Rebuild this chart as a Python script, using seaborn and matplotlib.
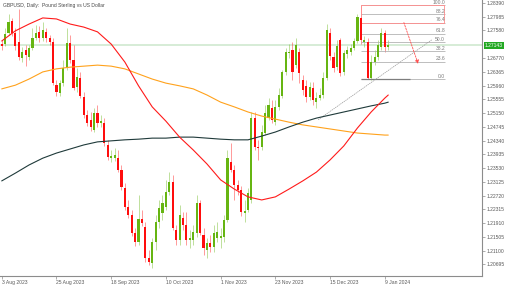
import numpy as np
import pandas as pd
import matplotlib
matplotlib.use("Agg")
import matplotlib.pyplot as plt
import matplotlib.transforms as mtransforms
from matplotlib.patches import Rectangle
import seaborn as sns

# ---------------- data ----------------
title = "GBPUSD, Daily:  Pound Sterling vs US Dollar"

opens = [1.2718, 1.2718, 1.2751, 1.2786, 1.2751, 1.2724, 1.2677, 1.2701, 1.2680, 1.2706,
         1.2736, 1.2754, 1.2736, 1.2754, 1.2736, 1.2724, 1.2597, 1.2574, 1.2603, 1.2648,
         1.2721, 1.2671, 1.2592, 1.2618, 1.2562, 1.2509, 1.2494, 1.2465, 1.2515, 1.2486,
         1.2486, 1.2421, 1.2382, 1.2382, 1.2382, 1.2347, 1.2294, 1.2238, 1.2215, 1.2162,
         1.2135, 1.2203, 1.2179, 1.2088, 1.2073, 1.2135, 1.2194, 1.2221, 1.2238, 1.2282,
         1.2312, 1.2170, 1.2141, 1.2206, 1.2185, 1.2141, 1.2141, 1.2162, 1.2250, 1.2156,
         1.2112, 1.2132, 1.2120, 1.2147, 1.2147, 1.2150, 1.2200, 1.2371, 1.2347, 1.2303,
         1.2288, 1.2221, 1.2229, 1.2259, 1.2500, 1.2415, 1.2415, 1.2456, 1.2500, 1.2530,
         1.2488, 1.2533, 1.2565, 1.2636, 1.2692, 1.2701, 1.2656, 1.2695, 1.2612, 1.2595,
         1.2562, 1.2589, 1.2547, 1.2559, 1.2568, 1.2618, 1.2751, 1.2680, 1.2650, 1.2730,
         1.2636, 1.2689, 1.2695, 1.2706, 1.2727, 1.2795, 1.2724, 1.2724, 1.2618, 1.2665,
         1.2680, 1.2709, 1.2751, 1.2709]
closes = [1.2712, 1.2748, 1.2783, 1.2751, 1.2712, 1.2680, 1.2695, 1.2686, 1.2706, 1.2736,
          1.2751, 1.2736, 1.2759, 1.2736, 1.2724, 1.2603, 1.2577, 1.2603, 1.2648, 1.2721,
          1.2671, 1.2589, 1.2621, 1.2565, 1.2509, 1.2486, 1.2474, 1.2515, 1.2486, 1.2491,
          1.2427, 1.2385, 1.2388, 1.2391, 1.2347, 1.2297, 1.2238, 1.2215, 1.2162, 1.2135,
          1.2203, 1.2191, 1.2088, 1.2076, 1.2135, 1.2194, 1.2235, 1.2250, 1.2282, 1.2312,
          1.2176, 1.2141, 1.2215, 1.2185, 1.2141, 1.2147, 1.2165, 1.2250, 1.2162, 1.2117,
          1.2132, 1.2120, 1.2162, 1.2165, 1.2153, 1.2200, 1.2382, 1.2347, 1.2303, 1.2288,
          1.2223, 1.2226, 1.2279, 1.2500, 1.2415, 1.2412, 1.2459, 1.2515, 1.2539, 1.2494,
          1.2533, 1.2568, 1.2636, 1.2695, 1.2695, 1.2636, 1.2715, 1.2633, 1.2583, 1.2562,
          1.2592, 1.2553, 1.2559, 1.2568, 1.2618, 1.2759, 1.2683, 1.2648, 1.2712, 1.2633,
          1.2692, 1.2701, 1.2706, 1.2727, 1.2798, 1.2730, 1.2730, 1.2618, 1.2665, 1.2680,
          1.2715, 1.2751, 1.2709, 1.27143]
highs = [1.2730, 1.2765, 1.2807, 1.2795, 1.2765, 1.2821, 1.2709, 1.2715, 1.2715, 1.2765,
         1.2774, 1.2771, 1.2783, 1.2765, 1.2745, 1.2736, 1.2612, 1.2612, 1.2671, 1.2765,
         1.2745, 1.2715, 1.2648, 1.2636, 1.2577, 1.2524, 1.2518, 1.2530, 1.2539, 1.2509,
         1.2500, 1.2436, 1.2406, 1.2412, 1.2406, 1.2362, 1.2309, 1.2259, 1.2229, 1.2176,
         1.2274, 1.2229, 1.2194, 1.2112, 1.2147, 1.2215, 1.2259, 1.2274, 1.2318, 1.2341,
         1.2332, 1.2185, 1.2244, 1.2223, 1.2223, 1.2170, 1.2185, 1.2274, 1.2259, 1.2176,
         1.2147, 1.2156, 1.2185, 1.2194, 1.2176, 1.2215, 1.2406, 1.2427, 1.2362, 1.2318,
         1.2300, 1.2259, 1.2294, 1.2518, 1.2518, 1.2436, 1.2480, 1.2539, 1.2559, 1.2553,
         1.2553, 1.2589, 1.2642, 1.2706, 1.2718, 1.2724, 1.2736, 1.2706, 1.2627, 1.2612,
         1.2606, 1.2606, 1.2577, 1.2589, 1.2636, 1.2777, 1.2765, 1.2695, 1.2730, 1.2736,
         1.2701, 1.2712, 1.2718, 1.2736, 1.2807, 1.2833, 1.2742, 1.2736, 1.2686, 1.2701,
         1.2730, 1.2765, 1.2759, 1.2730]
lows = [1.2701, 1.2712, 1.2745, 1.2742, 1.2701, 1.2671, 1.2665, 1.2653, 1.2671, 1.2701,
        1.2730, 1.2724, 1.2727, 1.2724, 1.2715, 1.2597, 1.2565, 1.2565, 1.2595, 1.2642,
        1.2662, 1.2583, 1.2577, 1.2559, 1.2500, 1.2477, 1.2462, 1.2459, 1.2474, 1.2474,
        1.2418, 1.2377, 1.2371, 1.2374, 1.2341, 1.2288, 1.2229, 1.2206, 1.2153, 1.2123,
        1.2126, 1.2182, 1.2076, 1.2067, 1.2059, 1.2112, 1.2176, 1.2200, 1.2229, 1.2274,
        1.2170, 1.2126, 1.2126, 1.2170, 1.2126, 1.2117, 1.2126, 1.2150, 1.2156, 1.2097,
        1.2088, 1.2106, 1.2106, 1.2135, 1.2117, 1.2135, 1.2194, 1.2341, 1.2259, 1.2274,
        1.2212, 1.2194, 1.2223, 1.2250, 1.2406, 1.2377, 1.2406, 1.2450, 1.2494, 1.2486,
        1.2480, 1.2524, 1.2559, 1.2627, 1.2677, 1.2612, 1.2648, 1.2603, 1.2568, 1.2547,
        1.2553, 1.2539, 1.2530, 1.2553, 1.2559, 1.2612, 1.2671, 1.2636, 1.2642, 1.2624,
        1.2627, 1.2677, 1.2686, 1.2701, 1.2721, 1.2718, 1.2709, 1.2615, 1.2612, 1.2656,
        1.2671, 1.2701, 1.2695, 1.2701]

ma_idx = [0, 4, 8, 12, 16, 20, 24, 28, 32, 36, 40, 44, 48, 52, 56, 60, 64, 68, 72, 76,
          80, 84, 88, 92, 96, 100, 104, 108, 112, 113]
ma_red = [1.2727, 1.2757, 1.2777, 1.2795, 1.2792, 1.2777, 1.2768, 1.2754, 1.2718, 1.2665,
          1.2595, 1.2533, 1.2491, 1.2444, 1.2406, 1.2365, 1.2318, 1.2291, 1.2268, 1.2259,
          1.2268, 1.2291, 1.2315, 1.2341, 1.2377, 1.2418, 1.2471, 1.2518, 1.2559, 1.2568]
ma_orange = [1.2586, 1.2597, 1.2615, 1.2636, 1.2645, 1.2650, 1.2653, 1.2656, 1.2653, 1.2645,
             1.2630, 1.2615, 1.2603, 1.2595, 1.2586, 1.2568, 1.2547, 1.2533, 1.2518, 1.2506,
             1.2497, 1.2488, 1.2480, 1.2474, 1.2468, 1.2462, 1.2456, 1.2453, 1.2450, 1.2450]
ma_black = [1.2315, 1.2338, 1.2362, 1.2382, 1.2397, 1.2409, 1.2421, 1.2430, 1.2433, 1.2436,
            1.2438, 1.2441, 1.2441, 1.2444, 1.2444, 1.2441, 1.2438, 1.2436, 1.2436, 1.2447,
            1.2459, 1.2474, 1.2488, 1.2500, 1.2509, 1.2518, 1.2527, 1.2536, 1.2544, 1.2547]

date_ticks = [0, 16, 32, 48, 64, 80, 96, 112]
date_labels = ["3 Aug 2023", "25 Aug 2023", "18 Sep 2023", "10 Oct 2023",
               "1 Nov 2023", "23 Nov 2023", "15 Dec 2023", "9 Jan 2024"]
price_ticks = [1.20695, 1.21100, 1.21505, 1.21910, 1.22315, 1.22720, 1.23125, 1.23530,
               1.23935, 1.24340, 1.24745, 1.25150, 1.25555, 1.25960, 1.26365, 1.26770,
               1.27580, 1.27985, 1.28390]
current_price = 1.27143

fib_levels = [0.0, 23.6, 38.2, 50.0, 61.8, 76.4, 88.2, 100.0]
fib_low = 1.2615
fib_high = 1.2832
trend_x = [92.5, 125.8]
trend_y = [1.2495, 1.2731]
arrow_from = (117.3, 1.2789)
arrow_to = (122.0, 1.2652)

# ---------------- style ----------------
sns.set_theme(style="white")
plt.rcParams["font.family"] = ["Liberation Sans", "DejaVu Sans"]
FS = 3.6
TXT = "#5a5a5a"
AX = "#8c8c8c"

fig = plt.figure(figsize=(5.12, 2.88), dpi=100)
fig.patch.set_facecolor("white")
ax = fig.add_axes([0, 12 / 288, 482 / 512, 276 / 288])
ax.set_facecolor("white")

# current price line (background)
ax.axhline(current_price, color="#d3ead3", lw=1.3, zorder=0.5)

# candles
df = pd.DataFrame({"i": np.arange(len(opens)), "open": opens, "close": closes,
                   "high": highs, "low": lows})
up = (df["close"] >= df["open"]).to_numpy()
bull, bear = "#66b512", "#ff0d0d"
cols = np.where(up, bull, bear)
ax.vlines(df["i"], df["low"], df["high"], colors=cols, lw=0.7, alpha=0.42, zorder=2)
body_bottom = np.minimum(df["open"], df["close"])
body_h = np.maximum((df["close"] - df["open"]).abs(), 0.00022)
ax.bar(df["i"], body_h, bottom=body_bottom, width=0.62, color=cols, linewidth=0, zorder=3)

# moving averages
ma = pd.DataFrame({"i": ma_idx, "red": ma_red, "orange": ma_orange, "black": ma_black})
sns.lineplot(data=ma, x="i", y="orange", color="#ffa21c", lw=0.8, ax=ax, zorder=4)
sns.lineplot(data=ma, x="i", y="black", color="#1f3a3a", lw=0.8, ax=ax, zorder=4)
sns.lineplot(data=ma, x="i", y="red", color="#ff1a1a", lw=0.8, ax=ax, zorder=4)

# fibonacci retracement
fib_x0, fib_x1 = 105.0, 129.6
for lvl in fib_levels:
    p = fib_low + (fib_high - fib_low) * lvl / 100.0
    ax.hlines(p, fib_x0, fib_x1, color="#acacac", lw=0.55, zorder=2.5)
    ax.text(fib_x1, p + 0.0001, f"{lvl:.1f}", ha="right", va="bottom",
            fontsize=FS, color="#7a7a7a", zorder=6)
ax.hlines(fib_low, fib_x0, 119.4, color="#7d7d7d", lw=0.9, zorder=2.6)
p764 = fib_low + (fib_high - fib_low) * 0.764
ax.add_patch(Rectangle((fib_x0, p764), fib_x1 - 0.3 - fib_x0, fib_high - p764,
                       fill=False, ec="#ff8c8c", lw=0.6, zorder=2.7))

# trend line
ax.plot(trend_x, trend_y, color="#9a9a9a", lw=0.5, ls=(0, (2, 1)), zorder=2.8)

# arrow
ax.annotate("", xy=arrow_to, xytext=arrow_from,
            arrowprops=dict(arrowstyle="-|>", ls=(0, (2, 1.5)), color="#ff4d4d",
                            lw=0.6, mutation_scale=5), zorder=6)

# axes formatting
ax.set_xlim(-0.5, 140.4)
ax.set_ylim(1.2035, 1.28478)
ax.set_xlabel("")
ax.set_ylabel("")
ax.grid(False)
for s in ["left", "top"]:
    ax.spines[s].set_visible(False)
for s in ["right", "bottom"]:
    ax.spines[s].set_color(AX)
    ax.spines[s].set_linewidth(0.8)

ax.yaxis.tick_right()
ax.set_yticks(price_ticks)
ax.set_yticklabels([f"{v:.5f}" for v in price_ticks])
ax.tick_params(axis="y", right=True, left=False, length=2.2, width=0.5, pad=0.8,
               labelsize=FS, labelcolor=TXT, color=AX, direction="out")
ax.set_xticks(date_ticks)
ax.set_xticklabels(date_labels, ha="left")
ax.tick_params(axis="x", bottom=True, length=2.2, width=0.5, pad=1.0,
               labelsize=FS, labelcolor=TXT, color=AX, direction="out")

# current price tag
trans = mtransforms.blended_transform_factory(ax.transAxes, ax.transData)
ax.text(1.0 + 3 / 482, current_price, f"{current_price:.5f}", transform=trans,
        ha="left", va="center", fontsize=FS, color="white", clip_on=False, zorder=10,
        bbox=dict(boxstyle="square,pad=0.25", fc="#22a822", ec="none"))

# title
fig.text(3 / 512, 1 - 5.5 / 288, title, ha="left", va="center", fontsize=FS, color="#4a4a4a")

fig.savefig("out.png", dpi=100, facecolor="white")
